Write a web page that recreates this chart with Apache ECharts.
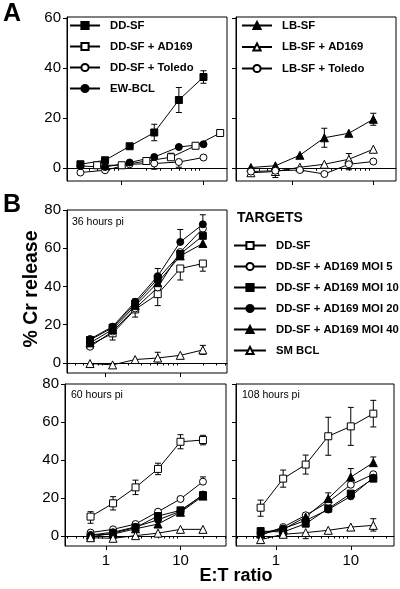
<!DOCTYPE html>
<html><head><meta charset="utf-8">
<script src="https://cdn.jsdelivr.net/npm/echarts@6/dist/echarts.min.js"></script>
<style>html,body{margin:0;padding:0;background:#fff}#c{width:400px;height:589px}</style>
</head><body><div id="c"></div><script>
// ---------- DATA ----------
const xA = [0.3125, 0.625, 1.25, 2.5, 5, 10];
const xA_AD169 = [0.5, 1, 2, 4, 8, 16];
const xB = [0.625, 1.25, 2.5, 5, 10, 20];
const xTickLabels = [1, 10];
const yTicksA = [0, 20, 40, 60];
const yTicksB = [0, 20, 40, 60, 80];

// Panel A (left)
const aDDSF = [1.6, 3.2, 8.8, 14.3, 27.3, 36.5];
const aDDSF_err = [0, 0, 0, 3.3, 5, 2.5];
const aDDSF_AD169 = [1.2, 1.2, 2.9, 4.4, 9.0, 14.1];
const aDDSF_AD169_up = [0, 0, 0, 1.6, 0, 0];
const aDDSF_Toledo = [-1.7, -0.8, 1.6, 1.9, 2.5, 4.3];
const aDDSF_Toledo_dn = [0, 0, 0, 2.3, 2.1, 0];
const aEWBCL = [0.9, 0.5, 2.3, 4.5, 8.5, 9.6];
// Panel A (right)
const aLBSF = [0.3, 1.0, 5.2, 12.2, 14.0, 19.6];
const aLBSF_err = [0, 0, 0, 3.8, 0, 2.4];
const aLBSF_AD169 = [-1.8, -1.3, 0.4, 1.6, 3.6, 7.6];
const aLBSF_AD169_up = [0, 0, 0, 0, 2.3, 0];
const aLBSF_Toledo = [-1.3, -1.0, -0.7, -2.3, 1.6, 2.7];
const aLBSF_Toledo_dn = [0, 2.7, 0, 0, 2.2, 0];

// Panel B 36 h
const b36_DDSF = [9.5, 15.5, 28, 36, 49.4, 52];
const b36_DDSF_dn = [0, 3.5, 4, 6, 6, 4];
const b36_M5 = [8.5, 16.5, 28.5, 39.5, 58, 70.3];
const b36_M10 = [12, 18.5, 31, 44, 57, 66.5];
const b36_M20 = [12.5, 19, 32, 45.4, 63.3, 72.5];
const b36_M20_up = [0, 0, 1.5, 4, 6.5, 5];
const b36_M40 = [10.5, 17.5, 30, 42, 56, 62.5];
const b36_SM = [-0.3, -1.0, 1.8, 2.6, 4.0, 6.8];
const b36_SM_up = [0, 0, 0, 3, 0, 2.4];
const b36_SM_dn = [0, 0, 0, 2.8, 0, 2.3];
// Panel B 60 h
const b60_DDSF = [10.2, 17.2, 25.6, 35.3, 49.6, 50.5];
const b60_DDSF_up = [2.6, 3.5, 3.8, 3, 3.7, 2.5];
const b60_DDSF_dn = [3.5, 3.5, 3.8, 3, 3.7, 2.5];
const b60_M5 = [1.8, 3.5, 6.3, 12.8, 19.5, 28.6];
const b60_M5_up = [0, 0, 0, 0, 0, 2.5];
const b60_M10 = [-0.5, 1.5, 4.5, 10.5, 13.5, 21.5];
const b60_M20 = [0.5, 2.0, 4.8, 8.5, 13.0, 21.8];
const b60_M40 = [0.5, 1.0, 3.8, 6.3, 12.5, 21.0];
const b60_SM = [-0.9, -1.2, 0.2, 1.5, 3.5, 3.5];
// Panel B 108 h
const b108_DDSF = [14.9, 30.2, 37.6, 52.5, 57.7, 64.4];
const b108_DDSF_up = [4, 4.5, 5, 10, 10, 7];
const b108_DDSF_dn = [4.5, 4.5, 5, 10, 10, 7];
const b108_M5 = [0.4, 4.7, 10.9, 17.9, 27, 32.5];
const b108_M10 = [2.6, 2.1, 6.5, 14.4, 22.3, 30.2];
const b108_M20 = [1.6, 3.9, 8.2, 13.9, 20.9, 30.7];
const b108_M40 = [1.0, 3.5, 10.0, 19.7, 31, 38.6];
const b108_M40_up = [0, 1.5, 2, 3, 4.5, 3];
const b108_SM = [-1.9, 0.9, 1.8, 3.0, 4.7, 5.6];
const b108_SM_up = [0, 0, 0, 0, 0, 3.5];
const b108_SM_dn = [0, 0, 3.2, 0, 0, 3];

// ---------- LAYOUT ----------
const FONT = '"Liberation Sans", Arial, Helvetica, sans-serif';
const panels = [
  {left: 67, top: 17, width: 160, height: 164, xmin: 0.214, xmax: 19.4, ymin: -5.1, ymax: 60.5, yt: yTicksA, yl: true, xl: false},
  {left: 236, top: 17, width: 160, height: 164, xmin: 0.205, xmax: 19.0, ymin: -5.1, ymax: 60.5, yt: yTicksA, yl: false, xl: false},
  {left: 67, top: 210, width: 160, height: 163, xmin: 0.308, xmax: 42, ymin: -5.24, ymax: 80, yt: yTicksB, yl: true, xl: false},
  {left: 65, top: 384, width: 161, height: 162, xmin: 0.284, xmax: 40.7, ymin: -5.26, ymax: 80, yt: yTicksB, yl: true, xl: true},
  {left: 236, top: 384, width: 158, height: 162, xmin: 0.293, xmax: 37.8, ymin: -5.26, ymax: 80, yt: yTicksB, yl: false, xl: true}
];
const minorAll = [];
[0.1, 1, 10].forEach(d => { for (let k = 2; k <= 9; k++) minorAll.push(+(d * k).toFixed(4)); });

const grid = [], xAxis = [], yAxis = [];
panels.forEach((p, i) => {
  grid.push({left: p.left, top: p.top, width: p.width, height: p.height, show: true,
    borderColor: '#000', borderWidth: 1, backgroundColor: 'transparent', outerBoundsMode: 'none'});
  const minors = minorAll.filter(v => v > p.xmin && v < p.xmax);
  xAxis.push({type: 'log', logBase: 10, gridIndex: i, min: p.xmin, max: p.xmax, position: 'bottom',
    axisLine: {show: true, lineStyle: {color: '#000', width: 1}},
    axisTick: {show: true, length: 2.5, customValues: minors, lineStyle: {color: '#000'}},
    axisLabel: {show: p.xl, customValues: xTickLabels, margin: 7, color: '#000', fontSize: 15, fontFamily: FONT,
      formatter: v => String(Math.round(v))},
    splitLine: {show: false}, minorTick: {show: false}});
  xAxis.push({type: 'log', logBase: 10, gridIndex: i, min: p.xmin, max: p.xmax, position: 'bottom', offset: 0,
    axisLine: {show: false},
    axisTick: {show: true, length: 4, customValues: xTickLabels, lineStyle: {color: '#000'}},
    axisLabel: {show: false}, splitLine: {show: false}});
  yAxis.push({type: 'value', gridIndex: i, min: p.ymin, max: p.ymax,
    axisLine: {show: true, lineStyle: {color: '#000', width: 1}},
    axisTick: {show: true, length: 4, customValues: p.yt, lineStyle: {color: '#000'}},
    axisLabel: {show: p.yl, customValues: p.yt, margin: 6, color: '#000', fontSize: 15, fontFamily: FONT},
    splitLine: {show: false}});
});

const SYM = {
  sqF: {symbol: 'rect', fill: '#000', size: 7},
  sqO: {symbol: 'rect', fill: '#fff', size: 7},
  ciF: {symbol: 'circle', fill: '#000', size: 7},
  ciO: {symbol: 'circle', fill: '#fff', size: 7},
  trF: {symbol: 'triangle', fill: '#000', size: 8},
  trO: {symbol: 'triangle', fill: '#fff', size: 8}
};
const series = [];
function addSeries(g, name, xs, ys, sym, up, dn, showName) {
  const s = SYM[sym];
  series.push({type: 'line', name: name, xAxisIndex: 2 * g, yAxisIndex: g,
    data: xs.map((x, k) => [x, ys[k]]), symbol: s.symbol, symbolSize: s.size, showSymbol: true,
    lineStyle: {color: '#000', width: 1}, itemStyle: {color: s.fill, borderColor: '#000', borderWidth: 1},
    z: 3, silent: true});
  if (up || dn) {
    series.push({type: 'custom', name: 'err', xAxisIndex: 2 * g, yAxisIndex: g, z: 2, silent: true,
      data: xs.map((x, k) => [x, ys[k], up ? up[k] : 0, dn ? dn[k] : 0]),
      encode: {x: 0, y: 1},
      renderItem: function (params, api) {
        const x = api.value(0), y = api.value(1), u = api.value(2), d = api.value(3);
        const c = api.coord([x, y]);
        const st = {stroke: '#000', lineWidth: 1};
        const ch = [];
        if (u > 0) {
          const t = api.coord([x, y + u]);
          ch.push({type: 'line', shape: {x1: c[0], y1: c[1], x2: t[0], y2: t[1]}, style: st});
          ch.push({type: 'line', shape: {x1: t[0] - 3, y1: t[1], x2: t[0] + 3, y2: t[1]}, style: st});
        }
        if (d > 0) {
          const b = api.coord([x, y - d]);
          ch.push({type: 'line', shape: {x1: c[0], y1: c[1], x2: b[0], y2: b[1]}, style: st});
          ch.push({type: 'line', shape: {x1: b[0] - 3, y1: b[1], x2: b[0] + 3, y2: b[1]}, style: st});
        }
        return {type: 'group', children: ch};
      }});
  }
}
// Panel A left
addSeries(0, 'A1|DD-SF', xA, aDDSF, 'sqF', aDDSF_err, aDDSF_err);
addSeries(0, 'A1|DD-SF + AD169', xA_AD169, aDDSF_AD169, 'sqO', aDDSF_AD169_up, null);
addSeries(0, 'A1|DD-SF + Toledo', xA, aDDSF_Toledo, 'ciO', null, aDDSF_Toledo_dn);
addSeries(0, 'A1|EW-BCL', xA, aEWBCL, 'ciF');
// Panel A right
addSeries(1, 'A2|LB-SF', xA, aLBSF, 'trF', aLBSF_err, aLBSF_err);
addSeries(1, 'A2|LB-SF + AD169', xA, aLBSF_AD169, 'trO', aLBSF_AD169_up, null);
addSeries(1, 'A2|LB-SF + Toledo', xA, aLBSF_Toledo, 'ciO', null, aLBSF_Toledo_dn);
// Panel B
const bNames = ['B|DD-SF', 'B|DD-SF + AD169 MOI 5', 'B|DD-SF + AD169 MOI 10', 'B|DD-SF + AD169 MOI 20', 'B|DD-SF + AD169 MOI 40', 'B|SM BCL'];
const bSyms = ['sqO', 'ciO', 'sqF', 'ciF', 'trF', 'trO'];
[
  [2, [b36_DDSF, b36_M5, b36_M10, b36_M20, b36_M40, b36_SM],
      [[null, b36_DDSF_dn], [null, null], [null, null], [b36_M20_up, null], [null, null], [b36_SM_up, b36_SM_dn]]],
  [3, [b60_DDSF, b60_M5, b60_M10, b60_M20, b60_M40, b60_SM],
      [[b60_DDSF_up, b60_DDSF_dn], [b60_M5_up, null], [null, null], [null, null], [null, null], [null, null]]],
  [4, [b108_DDSF, b108_M5, b108_M10, b108_M20, b108_M40, b108_SM],
      [[b108_DDSF_up, b108_DDSF_dn], [null, null], [null, null], [null, null], [b108_M40_up, null], [b108_SM_up, b108_SM_dn]]]
].forEach(([g, ys, errs]) => {
  ys.forEach((y, k) => addSeries(g, bNames[k], xB, y, bSyms[k], errs[k][0], errs[k][1]));
});

const legendText = {fontFamily: FONT, fontWeight: 'bold', fontSize: 11.3, color: '#000', padding: [0, 0, 0, 5]};
const legendBase = {orient: 'vertical', itemWidth: 30, itemHeight: 9, selectedMode: false,
  formatter: n => n.split('|')[1], textStyle: legendText, padding: 0};
const legend = [
  Object.assign({}, legendBase, {left: 69, top: 20, itemGap: 10, data: ['A1|DD-SF', 'A1|DD-SF + AD169', 'A1|DD-SF + Toledo', 'A1|EW-BCL']}),
  Object.assign({}, legendBase, {left: 241, top: 20, itemGap: 10.5, data: ['A2|LB-SF', 'A2|LB-SF + AD169', 'A2|LB-SF + Toledo']}),
  Object.assign({}, legendBase, {left: 233, top: 240, itemGap: 10, itemWidth: 32, data: bNames})
];

const txt = (o) => ({type: 'text', silent: true, style: Object.assign({fill: '#000', fontFamily: FONT}, o.style), left: o.left, top: o.top, rotation: o.rotation || 0, x: o.x, y: o.y});
const graphic = [
  {type: 'text', left: 3, top: 2, style: {text: 'A', fontSize: 25, fontWeight: 'bold', fill: '#000', fontFamily: FONT}},
  {type: 'text', left: 3, top: 193, style: {text: 'B', fontSize: 25, fontWeight: 'bold', fill: '#000', fontFamily: FONT}},
  {type: 'text', x: 32, y: 289, rotation: Math.PI / 2, style: {text: '% Cr release', fontSize: 19.5, fontWeight: 'bold', fill: '#000', fontFamily: FONT, align: 'center', verticalAlign: 'middle'}},
  {type: 'text', x: 236, y: 576, style: {text: 'E:T ratio', fontSize: 18, fontWeight: 'bold', fill: '#000', fontFamily: FONT, align: 'center', verticalAlign: 'middle'}},
  {type: 'text', left: 237, top: 211, style: {text: 'TARGETS', fontSize: 14, fontWeight: 'bold', fill: '#000', fontFamily: FONT}},
  {type: 'text', left: 72, top: 217, style: {text: '36 hours pi', fontSize: 10.5, fill: '#000', fontFamily: FONT}},
  {type: 'text', left: 71, top: 390, style: {text: '60 hours pi', fontSize: 10.5, fill: '#000', fontFamily: FONT}},
  {type: 'text', left: 242, top: 390, style: {text: '108 hours pi', fontSize: 10.5, fill: '#000', fontFamily: FONT}}
];

const chart = echarts.init(document.getElementById('c'), null, {renderer: 'canvas'});
chart.setOption({animation: false, backgroundColor: '#fff', grid, xAxis, yAxis, series, legend, graphic});
</script></body></html>
